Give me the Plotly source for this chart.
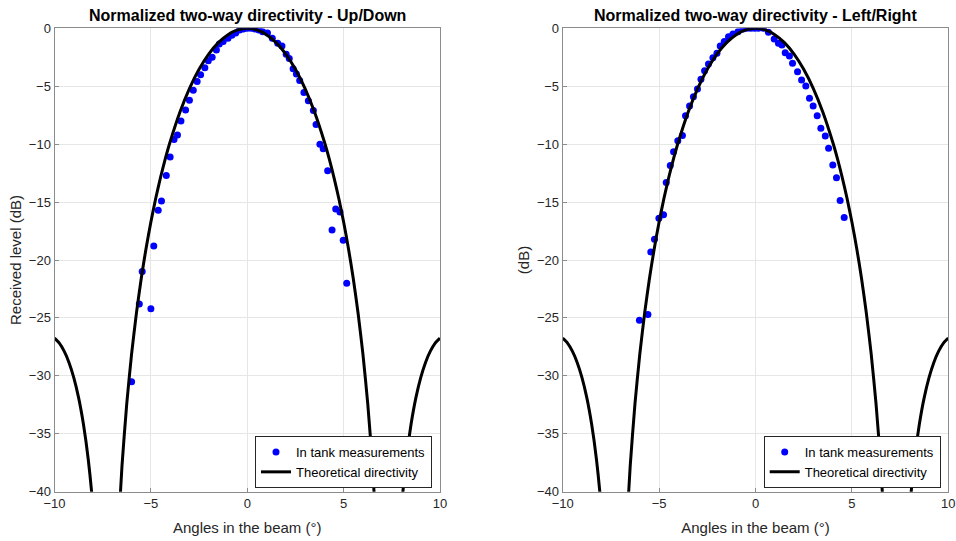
import plotly.graph_objects as go

# Theoretical directivity
theo_x = [-10, -9.75, -9.5, -9.25, -9, -8.75, -8.5, -8.25, -8, -7.75, -7.5, -7, -6.75, -6.5, -6.25, -6,
          -5.75, -5.5, -5.25, -5, -4.75, -4.5, -4.25, -4, -3.5, -3, -2.5, -2, -1.5, -1, -0.5, 0,
          0.5, 1, 1.5, 2, 2.5, 3, 3.5, 4, 4.25, 4.5, 4.75, 5, 5.25, 5.5, 5.75, 6, 6.25, 6.5, 6.75,
          7, 7.5, 7.75, 8, 8.25, 8.5, 8.75, 9, 9.25, 9.5, 9.75, 10]
theo_y = [-26.75, -27.18, -27.87, -28.84, -30.15, -31.88, -34.16, -37.2, -41.43, -47.75, -59.1, -57.9, -45.35, -37.82, -32.38, -28.11,
          -24.59, -21.59, -19.0, -16.72, -14.69, -12.88, -11.25, -9.79, -7.26, -5.2, -3.54, -2.23, -1.24, -0.55, -0.14, 0.0,
          -0.14, -0.55, -1.24, -2.23, -3.54, -5.2, -7.26, -9.79, -11.25, -12.88, -14.69, -16.72, -19.0, -21.59, -24.59, -28.11, -32.38, -37.82, -45.35,
          -57.9, -59.1, -47.75, -41.43, -37.2, -34.16, -31.88, -30.15, -28.84, -27.87, -27.18, -26.75]

# In tank measurements - Up/Down
ud_x = [-6.0, -5.6, -5.45, -5.0, -4.85, -4.62, -4.45, -4.2, -4.0, -3.8, -3.62, -3.44, -3.2, -3.0, -2.8,
        -2.6, -2.42, -2.2, -2.02, -1.82, -1.6, -1.45, -1.25, -1.0, -0.8, -0.6, -0.4, -0.2, 0.0, 0.2,
        0.4, 0.6, 0.8, 1.05, 1.3, 1.58, 1.8, 2.02, 2.18, 2.38, 2.55, 2.72, 2.94, 3.17, 3.43, 3.57,
        3.77, 3.94, 4.17, 4.4, 4.59, 4.81, 4.98, 5.16]
ud_y = [-30.5, -23.8, -21.0, -24.2, -18.8, -15.7, -14.9, -12.7, -11.1, -9.6, -9.2, -8.0, -7.05, -6.2, -5.35,
        -4.6, -4.0, -3.4, -2.8, -2.5, -1.87, -1.35, -1.15, -0.86, -0.6, -0.4, -0.15, -0.05, 0.0, 0.0,
        -0.05, -0.15, -0.3, -0.4, -0.85, -1.3, -1.53, -2.25, -2.6, -3.5, -3.95, -4.5, -5.55, -6.25, -7.1, -8.3,
        -10.0, -10.4, -12.3, -17.4, -15.6, -15.85, -18.3, -22.0]

# In tank measurements - Left/Right
lr_x = [-6.02, -5.58, -5.43, -5.24, -5.01, -4.77, -4.63, -4.42, -4.25, -4.03, -3.79, -3.63, -3.42, -3.22,
        -3.01, -2.83, -2.64, -2.44, -2.21, -2.0, -1.83, -1.62, -1.4, -1.17, -0.91, -0.65, -0.45, -0.25,
        -0.05, 0.15, 0.41, 0.67, 0.97, 1.19, 1.37, 1.54, 1.76, 1.92, 2.18, 2.39, 2.61, 2.8, 2.99, 3.2,
        3.39, 3.62, 3.79, 4.01, 4.2, 4.39, 4.6]
lr_y = [-25.2, -24.7, -19.3, -18.2, -16.4, -16.1, -13.3, -11.85, -10.65, -9.7, -9.26, -7.54, -6.7, -5.9,
        -5.24, -4.4, -3.66, -3.08, -2.54, -2.16, -1.53, -1.15, -0.72, -0.49, -0.29, -0.06, 0.0, 0.0,
        0.0, 0.0, 0.0, -0.35, -0.92, -1.3, -1.44, -2.1, -2.39, -3.02, -3.74, -4.46, -4.98, -6.04, -6.7, -7.54,
        -8.63, -9.29, -10.36, -11.8, -12.9, -14.87, -16.34]

x_ticks = [-10, -5, 0, 5, 10]
y_ticks = [-40, -35, -30, -25, -20, -15, -10, -5, 0]

FONT = "Liberation Sans, Arial, sans-serif"
W, H = 956, 541
TITLE_FONT = dict(family=FONT, size=15, color="#262626")

fig = go.Figure()
fig.add_trace(go.Scatter(x=ud_x, y=ud_y, mode="markers", name="In tank measurements",
                         marker=dict(color="#0000ff", size=7), xaxis="x", yaxis="y", legend="legend"))
fig.add_trace(go.Scatter(x=theo_x, y=theo_y, mode="lines", name="Theoretical directivity",
                         line=dict(color="black", width=3, shape="spline", smoothing=0.6),
                         xaxis="x", yaxis="y", legend="legend"))
fig.add_trace(go.Scatter(x=lr_x, y=lr_y, mode="markers", name="In tank measurements",
                         marker=dict(color="#0000ff", size=7), xaxis="x2", yaxis="y2", legend="legend2"))
fig.add_trace(go.Scatter(x=theo_x, y=theo_y, mode="lines", name="Theoretical directivity",
                         line=dict(color="black", width=3, shape="spline", smoothing=0.6),
                         xaxis="x2", yaxis="y2", legend="legend2"))

ydom = [1 - 491.7 / H, 1 - 28.3 / H]
axis_common = dict(showgrid=True, gridcolor="#e6e6e6", gridwidth=1, zeroline=False,
                   showline=True, linecolor="#8c8c8c", linewidth=1, mirror=True,
                   ticks="inside", ticklen=4, tickcolor="#8c8c8c",
                   tickfont=dict(family=FONT, size=13, color="#262626"), automargin=False)

legend_common = dict(xanchor="right", yanchor="bottom", bgcolor="white", bordercolor="#262626",
                     borderwidth=1, font=dict(family=FONT, size=13, color="#000000"),
                     tracegroupgap=0, itemwidth=30)

fig.update_layout(
    width=W, height=H, margin=dict(l=0, r=0, t=0, b=0),
    paper_bgcolor="white", plot_bgcolor="white",
    xaxis=dict(domain=[54.5 / W, 440 / W], range=[-10, 10], tickvals=x_ticks, anchor="y",
               title=dict(text="Angles in the beam (°)", font=TITLE_FONT, standoff=12),
               **axis_common),
    yaxis=dict(domain=ydom, range=[-40, 0], tickvals=y_ticks, anchor="x",
               title=dict(text="Received level (dB)", font=TITLE_FONT, standoff=3),
               **axis_common),
    xaxis2=dict(domain=[562.7 / W, 948.3 / W], range=[-10, 10], tickvals=x_ticks, anchor="y2",
                title=dict(text="Angles in the beam (°)", font=TITLE_FONT, standoff=12),
                **axis_common),
    yaxis2=dict(domain=ydom, range=[-40, 0], tickvals=y_ticks, anchor="x2",
                title=dict(text="(dB)", font=TITLE_FONT, standoff=3),
                **axis_common),
    legend=dict(x=432 / W, y=1 - 488 / H, **legend_common),
    legend2=dict(x=940.7 / W, y=1 - 488 / H, **legend_common),
    annotations=[
        dict(text="<b>Normalized two-way directivity - Up/Down</b>", x=(54.5 + 440) / 2 / W, y=1 - 15 / H,
             xref="paper", yref="paper", showarrow=False, xanchor="center", yanchor="middle",
             font=dict(family=FONT, size=16, color="black")),
        dict(text="<b>Normalized two-way directivity - Left/Right</b>", x=(562.7 + 948.3) / 2 / W, y=1 - 15 / H,
             xref="paper", yref="paper", showarrow=False, xanchor="center", yanchor="middle",
             font=dict(family=FONT, size=16, color="black")),
    ],
)

fig.write_html("out.html", config={"displayModeBar": False},
               post_script="document.body.style.margin='0';document.body.style.overflow='hidden';")
